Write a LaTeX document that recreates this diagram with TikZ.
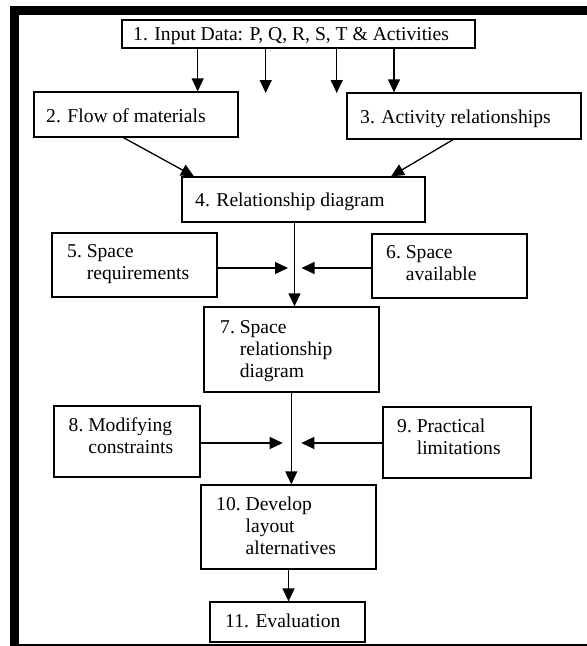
\documentclass[tikz,border=0pt]{standalone}
\usepackage{fontspec}
\setmainfont{Liberation Serif}
\usetikzlibrary{arrows.meta}

\tikzset{
  box/.style={draw, line width=1.3pt, inner sep=0pt, fill=white},
  txt/.style={anchor=base west, inner sep=0pt, font=\fontsize{19.6}{22}\selectfont},
  arr/.style={line width=1.3pt, -{Triangle[length=13pt,width=12pt]}},
}
% numbered label with the following lines hung under the first word
\newcommand{\hang}[2]{\begin{tabular}[t]{@{}l@{}l@{}}#1\ \null&#2\end{tabular}}

\begin{document}
\begin{tikzpicture}[x=1pt,y=-1pt]
\useasboundingbox (0,0) rectangle (587,646);

% frame
\fill[black] (10,6) rectangle (587,14.5);
\fill[black] (10,6) rectangle (18.5,646);
\fill[black] (10,644) rectangle (587,646);

% boxes
\node[box, minimum width=353pt, minimum height=28pt] (b1) at (298.5,34) {};
\node[box, minimum width=204pt, minimum height=45pt] (b2) at (136,114.5) {};
\node[box, minimum width=234pt, minimum height=46pt] (b3) at (464,116) {};
\node[box, minimum width=243pt, minimum height=45pt] (b4) at (303.5,199.5) {};
\node[box, minimum width=165pt, minimum height=64pt] (b5) at (134.5,265) {};
\node[box, minimum width=155pt, minimum height=64pt] (b6) at (449.5,266) {};
\node[box, minimum width=175pt, minimum height=85pt] (b7) at (291.5,349.5) {};
\node[box, minimum width=146pt, minimum height=71pt] (b8) at (127,441.5) {};
\node[box, minimum width=148pt, minimum height=71pt] (b9) at (457,442.5) {};
\node[box, minimum width=175pt, minimum height=84pt] (b10) at (288.5,527) {};
\node[box, minimum width=155pt, minimum height=40pt] (b11) at (287.5,622) {};

% labels
\node[txt] (t1) at (133,40) {1. Input Data: P, Q, R, S, T \& Activities};
\node[txt] (t2) at (46,122) {2. Flow of materials};
\node[txt] (t3) at (360,123) {3. Activity relationships};
\node[txt] (t4) at (195,206) {4. Relationship diagram};
\node[txt] (t5) at (67,257) {\hang{5.}{Space\\&requirements}};
\node[txt] (t6) at (386,258) {\hang{6.}{Space\\&available}};
\node[txt] (t7) at (220,333) {\hang{7.}{Space\\&relationship\\&diagram}};
\node[txt] (t8) at (68.5,431) {\hang{8.}{Modifying\\&constraints}};
\node[txt] (t9) at (397,432) {\hang{9.}{Practical\\&limitations}};
\node[txt] (t10) at (216,510) {\hang{10.}{Develop\\&layout\\&alternatives}};
\node[txt] (t11) at (225,627) {11. Evaluation};

% free ends and junctions
\coordinate (m2) at (265.7,93);
\coordinate (m3) at (336.7,93);
\coordinate (j1) at (294.5,268);
\coordinate (j2) at (291.3,443);

% connectors
\draw[arr] ([xshift=-100.8pt]b1.south) -- ([xshift=-100.8pt]b1.south |- b2.north);
\draw[arr] (b1.south -| m2) -- (m2);
\draw[arr] (b1.south -| m3) -- (m3);
\draw[arr] ([xshift=95.5pt]b1.south) -- ([xshift=95.5pt]b1.south |- b3.north);

\draw[arr] ([xshift=-12.5pt]b2.south) -- ([xshift=-109.5pt]b4.north);
\draw[arr] ([xshift=-11pt]b3.south) -- ([xshift=87.5pt]b4.north);

\draw[arr] (b4.south -| j1) -- (b7.north -| j1);
\draw[arr] (b5.east |- j1) -- ([xshift=-6.5pt]j1);
\draw[arr] (b6.west |- j1) -- ([xshift=7pt]j1);

\draw[arr] (b7.south -| j2) -- (b10.north -| j2);
\draw[arr] (b8.east |- j2) -- ([xshift=-8.6pt]j2);
\draw[arr] (b9.west |- j2) -- ([xshift=10pt]j2);

\draw[arr] (b10.south) -- (b10.south |- b11.north);
\end{tikzpicture}
\end{document}
